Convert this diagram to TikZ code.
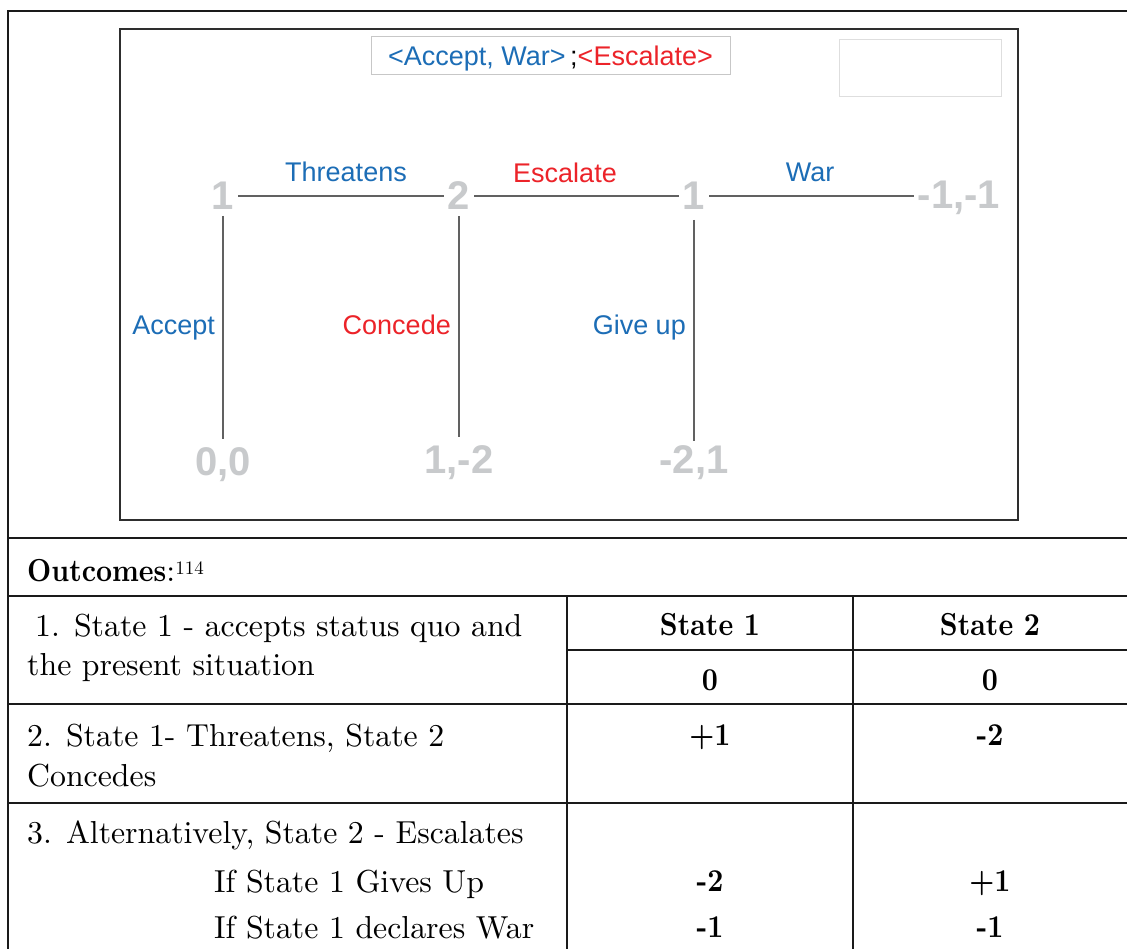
\documentclass[tikz,border=0pt]{standalone}
\usepackage{fontspec}
\setmainfont{lmroman10-regular.otf}[BoldFont=lmroman10-bold.otf, BoldFeatures={FakeStretch=0.88}]
\newfontfamily\diagfont{Liberation Sans}
\definecolor{moveblue}{HTML}{1C6DB6}
\definecolor{movered}{HTML}{EC2329}
\definecolor{payoffgray}{HTML}{C8CACC}
\definecolor{treeline}{HTML}{616161}
\definecolor{framegray}{HTML}{2E2E2E}
\definecolor{rulecol}{HTML}{1A1A1A}
\tikzset{
  player/.style={font=\diagfont\bfseries\fontsize{40}{40}\selectfont, text=payoffgray, inner sep=4pt},
  payoff/.style={font=\diagfont\bfseries\fontsize{40}{40}\selectfont, text=payoffgray, inner sep=4pt, text depth=0pt},
  branch/.style={draw=treeline, line width=2pt},
  bluelab/.style={font=\diagfont\fontsize{27}{27}\selectfont, text=moveblue, inner sep=0pt},
  redlab/.style={font=\diagfont\fontsize{27}{27}\selectfont, text=movered, inner sep=0pt},
  gridline/.style={draw=rulecol, line width=2.4pt},
  body/.style={font=\fontsize{31.8}{31.8}\selectfont, anchor=base west, inner sep=0pt},
  cell/.style={font=\fontsize{31.8}{31.8}\selectfont\bfseries, anchor=base, inner sep=0pt}
}
\begin{document}
\begin{tikzpicture}[x=1pt,y=-1pt]
\useasboundingbox (0,0) rectangle (1127,949);
\fill[white] (0,0) rectangle (1127,949);

% ---- outer table rules ----
\coordinate (tl) at (8,11);
\coordinate (tr) at (1127,11);
\coordinate (bl) at (8,949);
\draw[gridline] (bl) -- (tl) -- (tr);
\draw[gridline] (8,538) -- (1127,538);
\draw[gridline] (8,596) -- (1127,596);
\draw[gridline] (567,650) -- (1127,650);
\draw[gridline] (8,704) -- (1127,704);
\draw[gridline] (8,803) -- (1127,803);
\draw[gridline] (567,596) -- (567,949);
\draw[gridline] (853,596) -- (853,949);

% ---- game tree panel ----
\draw[draw=framegray, line width=2pt] (120,29) rectangle (1018,520);
\node[draw=black!22, line width=1pt, minimum width=359pt, minimum height=38pt, inner sep=0pt,
      text depth=0pt, font=\diagfont\fontsize{27}{27}\selectfont] (tag) at (550.5,56)
  {\textcolor{moveblue}{<Accept, War>}\,;\textcolor{movered}{<Escalate>}};
\node[draw=black!13, line width=1pt, minimum width=162pt, minimum height=57pt, inner sep=0pt] (blank) at (920,68.5) {};

\node[player] (p1) at (223,196) {1};
\node[player] (p2) at (459,196) {2};
\node[player] (p3) at (694,196) {1};
\node[payoff] (t4) at (959,195) {-1,-1};
\node[payoff] (o1) at (223,462) {0,0};
\node[payoff] (o2) at (459,460) {1,-2};
\node[payoff] (o3) at (694,460) {-2,1};

\draw[branch] (p1) -- (p2);
\draw[branch] (p2) -- (p3);
\draw[branch] (p3) -- (t4.west |- p3);
\draw[branch, shorten <=2pt, shorten >=5pt] (p1) -- (o1);
\draw[branch, shorten <=2pt, shorten >=5pt] (p2) -- (o2);
\draw[branch, shorten <=6pt, shorten >=1pt] (p3) -- (o3);

\node[bluelab, anchor=base] (lthr) at (346,182) {Threatens};
\node[redlab, anchor=base] (lesc) at (565,183) {Escalate};
\node[bluelab, anchor=base] (lwar) at (810,182) {War};
\node[bluelab, anchor=base east] (lacc) at (215,335) {Accept};
\node[redlab, anchor=base east] (lcon) at (451,335) {Concede};
\node[bluelab, anchor=base east] (lgiv) at (686,335) {Give up};

% ---- outcomes table text ----
\node[body] (hdr) at (27,581) {\textbf{Outcomes}:\raisebox{0.2em}{\fontsize{19}{19}\selectfont 114}};
\node[body] (r1a) at (35,636) {1. State 1 - accepts status quo and};
\node[body] (r1b) at (27,675) {the present situation};
\node[cell] (h1) at (710,635) {State 1};
\node[cell] (h2) at (990,635) {State 2};
\node[cell] (v11) at (710,690) {0};
\node[cell] (v12) at (990,690) {0};
\node[body] (r2a) at (27,746) {2. State 1- Threatens, State 2};
\node[body] (r2b) at (27,786) {Concedes};
\node[cell] (v21) at (710,745) {+1};
\node[cell] (v22) at (990,745) {-2};
\node[body] (r3a) at (27,843) {3. Alternatively, State 2 - Escalates};
\node[body] (r3b) at (214,892) {If State 1 Gives Up};
\node[body] (r3c) at (214,938) {If State 1 declares War};
\node[cell] (v31) at (710,891) {-2};
\node[cell] (v32) at (990,891) {+1};
\node[cell] (v41) at (710,937) {-1};
\node[cell] (v42) at (990,937) {-1};
\end{tikzpicture}
\end{document}
